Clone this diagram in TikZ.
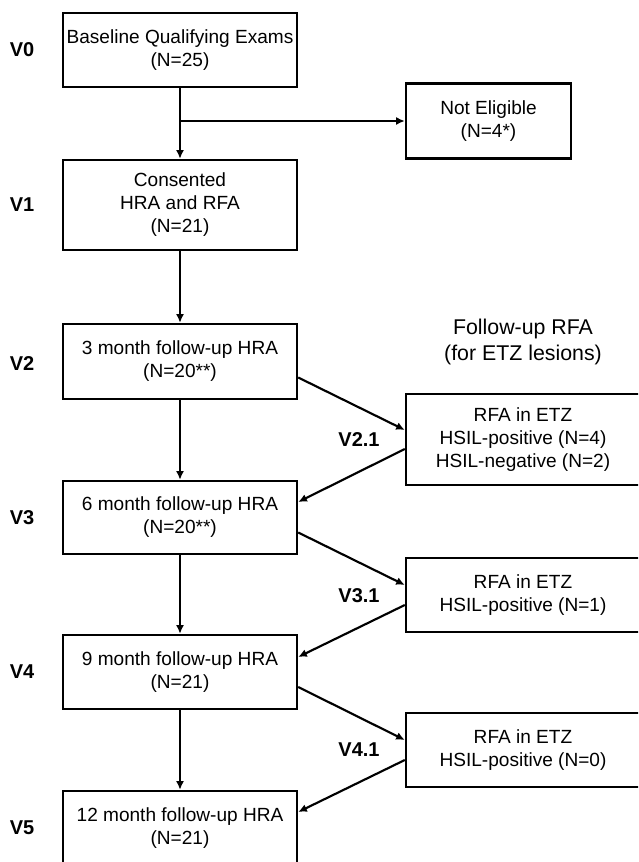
\documentclass[tikz,border=0pt]{standalone}
\usepackage{fontspec}
\setmainfont{Liberation Sans}
\usetikzlibrary{arrows.meta,calc}
\tikzset{
  box/.style={draw=black, line width=1.8pt, rectangle, align=center, inner sep=2pt,
    minimum width=175.5pt, font=\fontsize{14.3pt}{17.3pt}\selectfont},
  vlabel/.style={font=\fontsize{15pt}{17pt}\selectfont\bfseries},
  conn/.style={line width=1.6pt, -{Latex[length=6.5pt,width=6pt]}},
  line/.style={line width=1.6pt}
}
\begin{document}
\begin{tikzpicture}[x=0.75pt,y=-0.75pt]
\useasboundingbox (0,0) rectangle (638,862);
\clip (0,0) rectangle (638,862);
% main column
\node[box, minimum height=55.5pt] (b0) at (180,50) {Baseline Qualifying Exams\\(N=25)};
\node[box, minimum width=123.75pt, minimum height=56.25pt] (ne) at (488.5,121) {Not Eligible\\(N=4*)};
\node[box, minimum height=67.5pt] (b1) at (180,205) {Consented\\HRA and RFA\\(N=21)};
\node[box, minimum height=56.25pt] (b2) at (180,361.5) {3 month follow-up HRA\\(N=20**)};
\node[box, minimum height=54.75pt] (b3) at (180,517.5) {6 month follow-up HRA\\(N=20**)};
\node[box, minimum height=55.5pt] (b4) at (180,672) {9 month follow-up HRA\\(N=21)};
\node[box, minimum height=55.5pt] (b5) at (180,828) {12 month follow-up HRA\\(N=21)};
% right column
\node[align=center, font=\fontsize{16pt}{19.3pt}\selectfont] (title) at (523,342) {Follow-up RFA\\(for ETZ lesions)};
\node[box, minimum height=68.25pt] (r1) at (523,439.5) {RFA in ETZ\\HSIL-positive (N=4)\\HSIL-negative (N=2)};
\node[box, minimum height=55.5pt] (r2) at (523,595) {RFA in ETZ\\HSIL-positive (N=1)};
\node[box, minimum height=55.5pt] (r3) at (523,750) {RFA in ETZ\\HSIL-positive (N=0)};
% visit labels
\node[vlabel] (l0) at (22,50) {V0};
\node[vlabel] (l1) at (22,205) {V1};
\node[vlabel] (l2) at (22,364) {V2};
\node[vlabel] (l3) at (22,518) {V3};
\node[vlabel] (l4) at (22,672) {V4};
\node[vlabel] (l5) at (22,828) {V5};
\node[vlabel] (l21) at (359,440) {V2.1};
\node[vlabel] (l31) at (359,596) {V3.1};
\node[vlabel] (l41) at (359,750) {V4.1};
% connectors
\coordinate (br) at (b0.south |- ne.west);
\draw[conn] (b0.south) -- (b1.north);
\draw[conn] (br) -- (ne.west);
\draw[conn] (b1.south) -- (b2.north);
\draw[conn] (b2.south) -- (b3.north);
\draw[conn] (b3.south) -- (b4.north);
\draw[conn] (b4.south) -- (b5.north);
\draw[conn] ($(b2.east)+(0,16)$) -- ($(r1.west)+(0,-9.5)$);
\draw[conn] ($(r1.west)+(0,9.5)$) -- ($(b3.east)+(0,-15.5)$);
\draw[conn] ($(b3.east)+(0,15)$) -- ($(r2.west)+(0,-10)$);
\draw[conn] ($(r2.west)+(0,10)$) -- ($(b4.east)+(0,-15)$);
\draw[conn] ($(b4.east)+(0,15)$) -- ($(r3.west)+(0,-10)$);
\draw[conn] ($(r3.west)+(0,10)$) -- ($(b5.east)+(0,-16)$);
\end{tikzpicture}
\end{document}
